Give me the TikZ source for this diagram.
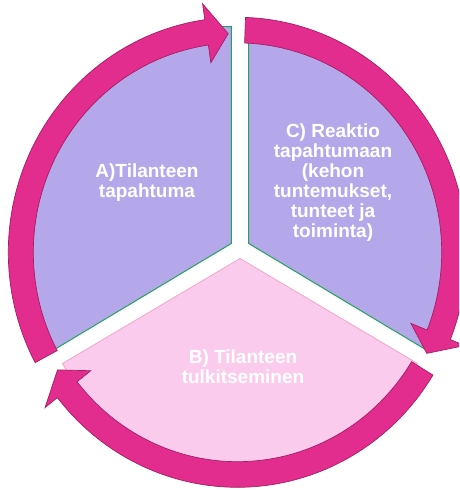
\documentclass[tikz,border=0pt]{standalone}
\usepackage{fontspec}
\setmainfont{Liberation Sans}
\definecolor{purp}{HTML}{B5A8EA}
\definecolor{grn}{HTML}{22A35A}
\definecolor{pinkfill}{HTML}{FBCBEE}
\definecolor{pinkline}{HTML}{F5A3C7}
\definecolor{mag}{HTML}{E22C8E}
\definecolor{magdark}{HTML}{A51F63}
\tikzset{
  secA/.style={fill=purp, draw=grn, line width=1pt, line join=miter},
  secB/.style={fill=pinkfill, draw=pinkline, line width=0.8pt, line join=miter},
  arrowsty/.style={fill=mag, draw=magdark, line width=0.7pt, line join=miter},
  lbl/.style={text=white, font=\bfseries\fontsize{19pt}{20pt}\selectfont, align=center, inner sep=0pt}
}
\newcommand\cyclearrow[3]{%
  \filldraw[arrowsty] (#1:229.2pt and 235pt)
    arc[start angle=#1, end angle=#2, x radius=229.2pt, y radius=235pt]
    -- (#2:244.9pt and 251.1pt) -- (#3:213.4pt and 218.9pt) -- (#2:186.8pt and 191.5pt)
    -- (#2:204.2pt and 209.4pt)
    arc[start angle=#2, end angle=#1, x radius=204.2pt, y radius=209.4pt] -- cycle;}
\begin{document}
\begin{tikzpicture}[x=1pt,y=1pt]
\useasboundingbox (0,0) rectangle (459,490);
\fill[white] (0,0) rectangle (459,490);
\clip (0,0) rectangle (459,490);
% sectors
\filldraw[secA] (231.3,246.5) -- +(90:209pt and 217pt)
  arc[start angle=90, end angle=210, x radius=209pt, y radius=217pt] -- cycle;
\filldraw[secA] (248.7,246.5) -- +(90:209pt and 217pt)
  arc[start angle=90, end angle=-30, x radius=209pt, y radius=217pt] -- cycle;
\filldraw[secB] (240,231.5) -- +(210:205pt and 210pt)
  arc[start angle=210, end angle=330, x radius=205pt, y radius=210pt] -- cycle;
% arrows
\begin{scope}[shift={(237.5,237.7)}]
\cyclearrow{208}{98.2}{92.5}
\cyclearrow{88}{-21.8}{-27.5}
\cyclearrow{-31.5}{-141.8}{-147.5}
\end{scope}
% labels
\node[lbl] (A) at (147,307) {A)Tilanteen\\tapahtuma};
\node[lbl] (C) at (333,307) {C) Reaktio\\tapahtumaan\\(kehon\\tuntemukset,\\tunteet ja\\toiminta)};
\node[lbl] (B) at (243,123.5) {B) Tilanteen\\tulkitseminen};
\end{tikzpicture}
\end{document}
